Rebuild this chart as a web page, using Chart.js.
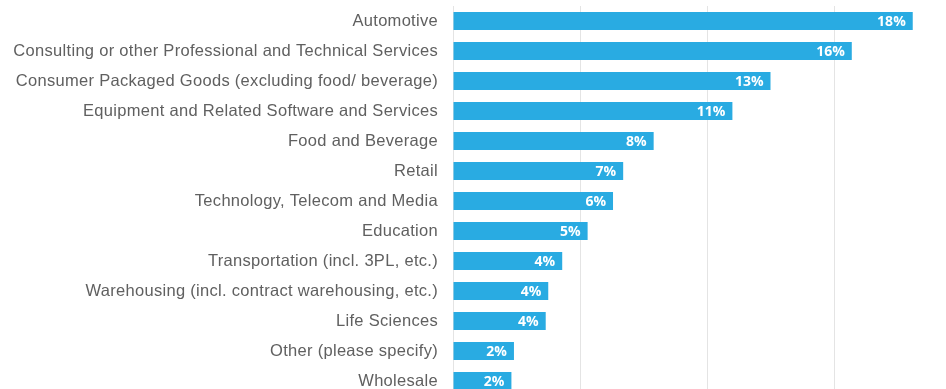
<!DOCTYPE html>
<html>
<head>
<meta charset="utf-8">
<script src="https://cdn.jsdelivr.net/npm/chart.js@4/dist/chart.umd.min.js"></script>
<style>
  html, body { margin: 0; padding: 0; background: #ffffff; overflow: hidden; }
  #wrap { width: 961px; height: 400px; }
</style>
</head>
<body>
<div id="wrap"><canvas id="chart" width="961" height="400"></canvas></div>
<script>
// Industry share of respondents (%)
const industries = [
  'Automotive',
  'Consulting or other Professional and Technical Services',
  'Consumer Packaged Goods (excluding food/ beverage)',
  'Equipment and Related Software and Services',
  'Food and Beverage',
  'Retail',
  'Technology, Telecom and Media',
  'Education',
  'Transportation (incl. 3PL, etc.)',
  'Warehousing (incl. contract warehousing, etc.)',
  'Life Sciences',
  'Other (please specify)',
  'Wholesale'
];
const shares = [18.1, 15.7, 12.5, 11.0, 7.9, 6.7, 6.3, 5.3, 4.3, 3.75, 3.65, 2.4, 2.3];
const axisTicks = [0, 5, 10, 15, 20];

// Slightly open tracking for the category labels
const labelTracking = {
  id: 'labelTracking',
  beforeLayout(chart) { chart.ctx.letterSpacing = '0.3px'; },
  beforeDraw(chart) { chart.ctx.letterSpacing = '0.3px'; }
};

// Writes the rounded percentage inside the end of each bar
const barValueLabels = {
  id: 'barValueLabels',
  afterDatasetsDraw(chart) {
    const ctx = chart.ctx;
    const meta = chart.getDatasetMeta(0);
    ctx.save();
    ctx.letterSpacing = '0px';
    ctx.font = 'bold 14px "Open Sans", sans-serif';
    ctx.fillStyle = '#ffffff';
    ctx.textAlign = 'right';
    ctx.textBaseline = 'middle';
    meta.data.forEach((bar, i) => {
      const v = chart.data.datasets[0].data[i];
      ctx.fillText(Math.round(v) + '%', bar.x - 7, bar.y + 1);
    });
    ctx.restore();
  }
};

new Chart(document.getElementById('chart'), {
  type: 'bar',
  data: {
    labels: industries,
    datasets: [{
      data: shares,
      backgroundColor: '#29ABE2',
      borderWidth: 0,
      barPercentage: 0.6,
      categoryPercentage: 1.0
    }]
  },
  options: {
    indexAxis: 'y',
    responsive: false,
    animation: false,
    layout: { padding: { top: 6, bottom: 4, left: 0, right: 0 } },
    plugins: {
      legend: { display: false },
      tooltip: { enabled: false }
    },
    scales: {
      x: {
        min: 0,
        max: 20,
        afterBuildTicks(scale) {
          scale.ticks = axisTicks.map(v => ({ value: v }));
        },
        afterFit(scale) { scale.height = 0; },
        ticks: { display: false },
        grid: { color: '#e4e4e4', lineWidth: 1, drawTicks: false },
        border: { display: false }
      },
      y: {
        afterFit(scale) {
          scale.width = 453;
          scale.paddingTop = 0;
          scale.paddingBottom = 0;
        },
        ticks: {
          color: '#606060',
          padding: 15,
          font: { family: '"Liberation Sans", Arial, sans-serif', size: 16.5 }
        },
        grid: { display: false, drawTicks: false },
        border: { display: false }
      }
    }
  },
  plugins: [labelTracking, barValueLabels]
});
</script>
</body>
</html>
